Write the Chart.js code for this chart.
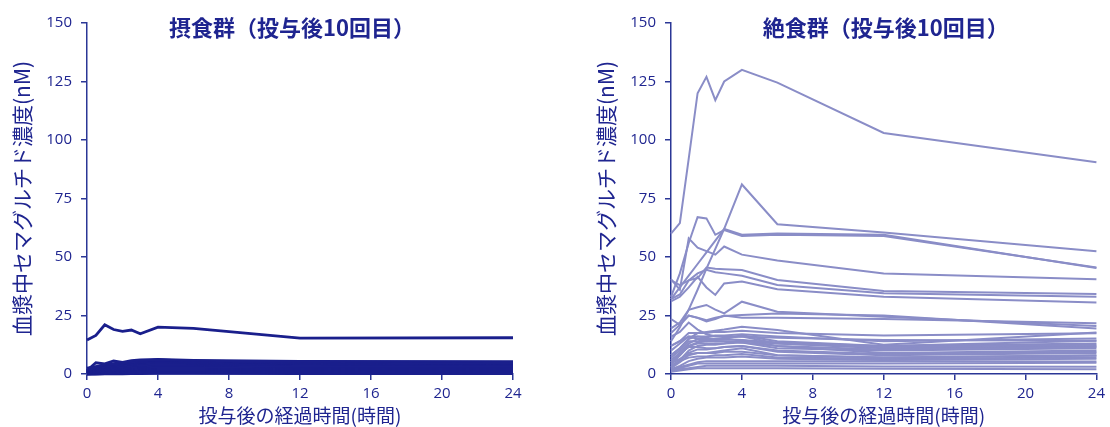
<!DOCTYPE html>
<html lang="ja">
<head>
<meta charset="utf-8">
<title>血漿中セマグルチド濃度</title>
<script src="https://cdn.jsdelivr.net/npm/chart.js@4.4.1/dist/chart.umd.min.js"></script>
<style>
  html, body { margin: 0; padding: 0; background: #ffffff; }
  #wrap { position: relative; width: 1110px; height: 427px; overflow: hidden; }
  canvas { position: absolute; top: 0; }
  #fed { left: 0; }
  #fasted { left: 584px; }
</style>
</head>
<body>
<div id="wrap">
  <canvas id="fed" width="555" height="427"></canvas>
  <canvas id="fasted" width="526" height="427"></canvas>
</div>
<script>
// Sampling times (hours after the 10th dose)
const hours = [0, 0.5, 1, 1.5, 2, 2.5, 3, 4, 6, 12, 24];

// Axis tick values
const xTickValues = [0, 4, 8, 12, 16, 20, 24];
const yTickValues = [0, 25, 50, 75, 100, 125, 150];

// Panel titles and axis titles
const fedTitle = '摂食群（投与後10回目）';
const fastedTitle = '絶食群（投与後10回目）';
const xAxisTitle = '投与後の経過時間(時間)';
const yAxisTitle = '血漿中セマグルチド濃度(nM)';

// Fed group: individual plasma concentration profiles (nM)
const fedProfiles = [
  [14.5, 16.5, 21, 19, 18.2, 18.8, 17.2, 20, 19.5, 15.3, 15.5],
  [1.5, 4.8, 4.3, 5.6, 5, 5.7, 6, 6.2, 5.8, 5.4, 5.3],
  [1, 3, 4, 4.2, 4.6, 5.2, 5.5, 6, 5.5, 5, 4.8],
  [2.5, 3.2, 3.8, 4.4, 4.8, 5, 5.2, 5.5, 5.2, 4.8, 4.6],
  [1.5, 2.5, 3.2, 3.8, 4.3, 4.7, 5, 5.8, 5.5, 5.2, 5],
  [0.8, 2, 2.8, 3.3, 3.8, 4.2, 4.6, 5.2, 4.8, 4.4, 4.3],
  [0.5, 1.5, 2.3, 2.8, 3.2, 3.6, 3.8, 4.3, 4.2, 4, 4],
  [0.5, 1, 1.8, 2.3, 2.7, 3.1, 3.3, 3.8, 3.7, 3.5, 3.5],
  [0.3, 0.9, 1.4, 1.8, 2.2, 2.6, 2.8, 3.2, 3.2, 3.1, 3],
  [0.3, 0.7, 1.1, 1.5, 1.8, 2.1, 2.4, 2.7, 2.7, 2.6, 2.5],
  [0.2, 0.5, 0.8, 1.2, 1.5, 1.7, 2, 2.3, 2.3, 2.2, 2.1],
  [0.1, 0.3, 0.6, 0.9, 1.1, 1.3, 1.5, 1.8, 1.8, 1.7, 1.6],
  [0.1, 0.2, 0.4, 0.6, 0.8, 0.9, 1, 1.3, 1.3, 1.2, 1.1],
  [0.1, 0.1, 0.2, 0.3, 0.4, 0.5, 0.6, 0.8, 0.8, 0.7, 0.6],
  [0, 0, 0.1, 0.1, 0.1, 0.2, 0.2, 0.3, 0.3, 0.2, 0.2]
];

// Fasted group: individual plasma concentration profiles (nM)
const fastedProfiles = [
  [60, 64.5, 92, 120, 127, 117, 125, 130, 124.5, 103, 90.5],
  [14, 20, 27.5, 36, 45, 53.5, 62, 81, 64, 60.5, 52.5],
  [33, 43, 56, 67, 66.5, 59.5, 61.5, 59, 59.5, 59, 45.5],
  [32, 37, 42, 47, 52, 57, 62, 59.5, 60, 59.5, 45.3],
  [40.5, 36, 58, 54, 52.5, 51, 54.5, 51, 48.5, 43, 40.5],
  [40, 38, 40, 41, 45.5, 45, 44.8, 44.4, 40.2, 35.5, 34.2],
  [32, 34, 40, 43, 44.5, 43.5, 43, 42, 38, 34.5, 33],
  [31, 33, 37, 41.5, 37, 33.8, 38.7, 39.5, 36.2, 33, 30.6],
  [19.5, 22, 27.4, 28.5, 29.5, 27.5, 25.9, 30.9, 26.6, 24.5, 20.5],
  [23.5, 21, 25, 24, 22.5, 23.5, 25, 24, 24, 23.5, 21.7],
  [17.5, 21, 25, 24, 23, 24, 24.8, 25.2, 25.9, 25, 19.4],
  [8, 11, 15, 17.5, 18, 18.5, 19, 20.2, 18.8, 12.5, 17.7],
  [12, 14, 17.5, 17.5, 17.5, 18, 18, 18.5, 17.5, 16.5, 17.4],
  [10, 13, 16, 16, 16, 16.5, 16.5, 17, 16, 14, 15.2],
  [16, 18, 22, 19, 17, 16, 16, 16, 15.5, 14.5, 14.2],
  [5, 9, 13, 15, 15, 15, 15.5, 16, 13, 11.5, 12.5],
  [7, 10, 14, 14, 14.5, 14, 14, 13.5, 12, 10.5, 11.5],
  [4, 8, 12, 13, 13, 13, 13, 13.5, 11, 10, 11],
  [3, 6, 10, 12, 12.5, 12.5, 13, 14.5, 12, 9, 10],
  [6, 9, 11.5, 11.5, 11, 11, 11.5, 12, 10, 8.5, 9.5],
  [2.5, 5, 8, 9, 9, 9.5, 10, 11, 8, 7, 8],
  [4.5, 6.5, 8.5, 9, 9, 9, 9.5, 9.5, 8, 7, 7.8],
  [3, 5.5, 7, 7.5, 7.5, 8, 8, 8.5, 7, 6.5, 7],
  [2, 3.5, 5.5, 6.5, 7, 7, 7, 7.5, 6.5, 6, 6.5],
  [2, 3, 4, 5, 5.5, 5.5, 5.5, 5.5, 5.5, 5.5, 5.3],
  [1.5, 2.5, 3.5, 4.5, 4.5, 4.5, 4.5, 4.5, 4.5, 4.5, 4.8],
  [1.5, 2, 2.5, 3, 3.5, 3.5, 3.5, 3.5, 3.5, 3.2, 3.1],
  [1, 1.5, 2, 2.5, 2.5, 2.5, 2.5, 2.5, 2.5, 2.2, 2],
  [5, 8, 12, 13.5, 14, 14.5, 15, 16.5, 14, 12, 14.2],
  [8, 11, 15, 16, 15.5, 15, 15, 14.5, 13.5, 12, 13],
  [12, 14, 16, 15, 14, 14, 14, 14, 13, 11, 12],
  [3.5, 6, 9, 10.5, 10.5, 11, 11.5, 12, 9.5, 8, 9]
];

const NAVY_TEXT = '#1f2590';
const AXIS_COLOR = '#2b3796';
const FONT_FAMILY = "'Open Sans', 'Noto Sans CJK JP', sans-serif";
const CJK_FAMILY = "'Noto Sans CJK JP', 'Open Sans', sans-serif";

// Panel heading drawn inside the canvas, centred over the plotting area
const panelTitle = {
  id: 'panelTitle',
  afterDraw(chart, args, opts) {
    const { ctx, chartArea } = chart;
    ctx.save();
    ctx.font = `bold ${opts.size}px ${CJK_FAMILY}`;
    ctx.fillStyle = opts.color;
    ctx.textAlign = 'center';
    ctx.textBaseline = 'middle';
    ctx.fillText(opts.text, (chartArea.left + chartArea.right) / 2 + opts.shiftX, opts.y);
    ctx.restore();
  }
};

function toPoints(values) {
  return values.map((v, i) => ({ x: hours[i], y: v }));
}

function buildChart(canvasId, title, profiles, lineColor, lineWidth, rightPad, titleShift) {
  const datasets = profiles.map(p => ({
    data: toPoints(p),
    borderColor: lineColor,
    backgroundColor: lineColor,
    borderWidth: lineWidth,
    pointRadius: 0,
    pointHoverRadius: 0,
    tension: 0,
    spanGaps: true,
    clip: 4
  }));

  return new Chart(document.getElementById(canvasId), {
    type: 'line',
    data: { datasets },
    plugins: [panelTitle],
    options: {
      responsive: false,
      devicePixelRatio: 1,
      animation: false,
      events: [],
      layout: { padding: { top: 23, right: rightPad, bottom: 0, left: 0 } },
      plugins: {
        legend: { display: false },
        tooltip: { enabled: false },
        title: { display: false },
        panelTitle: { text: title, size: 22, color: NAVY_TEXT, y: 28, shiftX: titleShift }
      },
      scales: {
        x: {
          type: 'linear',
          min: 0,
          max: 24,
          afterBuildTicks: s => { s.ticks = xTickValues.map(v => ({ value: v })); },
          afterFit: s => { s.height = 53; },
          ticks: {
            color: NAVY_TEXT,
            font: { family: FONT_FAMILY, size: 15 },
            padding: 5,
            maxRotation: 0
          },
          grid: {
            drawOnChartArea: false,
            drawTicks: true,
            tickLength: 6,
            color: AXIS_COLOR,
            lineWidth: 1.5
          },
          border: { display: true, color: AXIS_COLOR, width: 1.5 },
          title: {
            display: true,
            text: xAxisTitle,
            color: NAVY_TEXT,
            font: { family: CJK_FAMILY, size: 19 },
            padding: { top: 0, bottom: 0 }
          }
        },
        y: {
          type: 'linear',
          min: 0,
          max: 150,
          afterBuildTicks: s => { s.ticks = yTickValues.map(v => ({ value: v })); },
          afterFit: s => { s.width = 87; },
          ticks: {
            color: NAVY_TEXT,
            font: { family: FONT_FAMILY, size: 15 },
            padding: 9
          },
          grid: {
            drawOnChartArea: false,
            drawTicks: true,
            tickLength: 6,
            color: AXIS_COLOR,
            lineWidth: 1.5
          },
          border: { display: true, color: AXIS_COLOR, width: 1.5 },
          title: {
            display: true,
            text: yAxisTitle,
            color: NAVY_TEXT,
            font: { family: CJK_FAMILY, size: 21 },
            padding: { top: 9, bottom: 0 }
          }
        }
      }
    }
  });
}

buildChart('fed', fedTitle, fedProfiles, '#1a1f8c', 2.8, 42, -8);
buildChart('fasted', fastedTitle, fastedProfiles, '#8a8dc7', 2, 13, 2);
</script>
</body>
</html>
